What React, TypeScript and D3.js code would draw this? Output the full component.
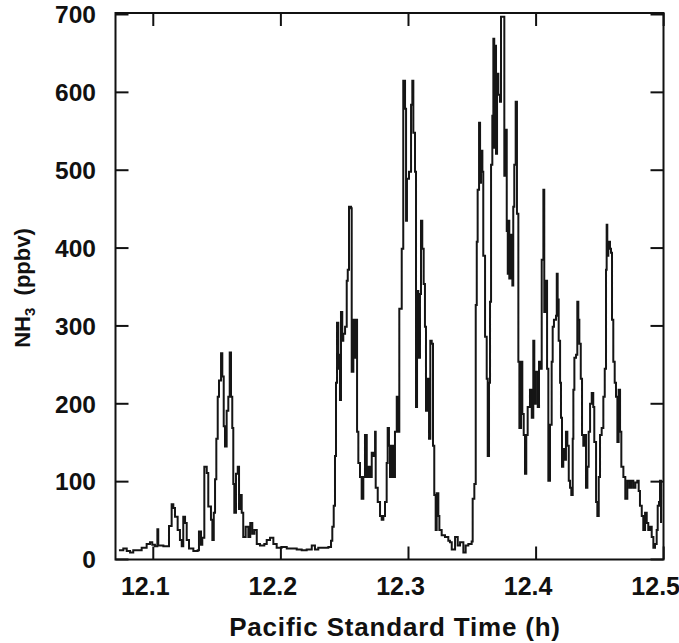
import React from "react";
import * as d3 from "d3";

const times: number[] = [
  12.0731, 12.0765, 12.0792, 12.0818, 12.0843, 12.0883, 12.0909, 12.0948, 12.0974, 12.0992,
  12.1013, 12.1032, 12.1039, 12.1079, 12.1113, 12.1123, 12.1144, 12.1157, 12.117, 12.1191,
  12.1209, 12.1223, 12.1235, 12.1249, 12.1262, 12.128, 12.1314, 12.1348, 12.1358, 12.1374,
  12.1384, 12.14, 12.1419, 12.1431, 12.1452, 12.1463, 12.1474, 12.1484, 12.1494, 12.1505,
  12.1515, 12.1531, 12.1541, 12.1552, 12.1562, 12.1575, 12.1588, 12.1599, 12.1609, 12.1619,
  12.1627, 12.1635, 12.1648, 12.1662, 12.1672, 12.1682, 12.1693, 12.1705, 12.1724, 12.1745,
  12.176, 12.1776, 12.1792, 12.1811, 12.1836, 12.187, 12.1889, 12.1915, 12.1941, 12.1967,
  12.2006, 12.2046, 12.2085, 12.2124, 12.2163, 12.2202, 12.2242, 12.2267, 12.2293, 12.2332,
  12.2372, 12.2393, 12.2403, 12.2414, 12.2424, 12.2432, 12.244, 12.245,
  12.2455, 12.2463, 12.2471, 12.2481, 12.2489, 12.2503, 12.2516, 12.2524, 12.2534, 12.255,
  12.2555, 12.2568, 12.2575, 12.2586, 12.2597, 12.2607, 12.262, 12.2633, 12.2646, 12.2659,
  12.2673, 12.2685, 12.2698, 12.2712, 12.2724, 12.2738, 12.2743, 12.2759, 12.2777, 12.279,
  12.2803, 12.2816, 12.2829, 12.2837, 12.2847, 12.2855, 12.2869, 12.2881, 12.2894, 12.2908,
  12.292, 12.2928, 12.2947, 12.2959, 12.2973, 12.2981, 12.2988, 12.3004, 12.302, 12.303,
  12.3038, 12.3051, 12.3059, 12.3067, 12.3077, 12.309, 12.3098, 12.3108, 12.3119, 12.3129,
  12.3137, 12.3151, 12.3161, 12.3171, 12.3182, 12.3192, 12.3202, 12.3213, 12.3221, 12.3234,
  12.3242, 12.326, 12.3286, 12.3312,
  12.3325, 12.3339, 12.3365, 12.3386, 12.3404, 12.343, 12.3448, 12.3469, 12.3495, 12.3503,
  12.3516, 12.3527, 12.3535, 12.3542, 12.3553, 12.3561, 12.3568, 12.3579, 12.3586, 12.36,
  12.3613, 12.3621, 12.3631, 12.3639, 12.3647, 12.3657, 12.3665, 12.3672, 12.3678, 12.3686,
  12.3694, 12.3704, 12.3717, 12.3725, 12.3743, 12.3751, 12.3762, 12.377, 12.3778, 12.3782,
  12.379, 12.3803, 12.3814, 12.3821, 12.3829, 12.384, 12.385, 12.3861, 12.3869, 12.3882,
  12.3892, 12.3903, 12.3913, 12.3923, 12.3934, 12.3952, 12.3966, 12.3978, 12.3986, 12.3997,
  12.4013, 12.4023, 12.4033, 12.4044, 12.4057, 12.4064, 12.4075, 12.4086, 12.4096, 12.4109,
  12.4122, 12.413, 12.414, 12.4156, 12.4162, 12.4169, 12.4177, 12.4188, 12.4195, 12.4203,
  12.4213, 12.4224, 12.4234, 12.4245, 12.4256, 12.4266, 12.4276, 12.4287, 12.4292, 12.43,
  12.4313, 12.4323, 12.4331, 12.4339, 12.435, 12.436, 12.437, 12.4381, 12.4391, 12.4402,
  12.4412, 12.4423, 12.4436, 12.4448, 12.4456, 12.447, 12.448, 12.4491, 12.4501, 12.4514,
  12.4527, 12.4538, 12.4548, 12.4553, 12.4558, 12.4566, 12.4579, 12.4587, 12.4595, 12.4605,
  12.4616, 12.4626, 12.4637, 12.4647, 12.4658, 12.4668, 12.4684, 12.4699, 12.4715, 12.4731,
  12.4746, 12.4762, 12.4778, 12.4793, 12.4804, 12.4814, 12.4828, 12.484, 12.4854, 12.4867,
  12.4879, 12.4893, 12.4906, 12.4919, 12.4932, 12.4945, 12.4953, 12.4963, 12.4971, 12.4979,
];

const nh3: number[] = [
  12, 14, 11, 9, 12, 12, 15, 20, 22, 19,
  17, 39, 18, 17, 17, 43, 71, 66, 55, 38,
  25, 17, 55, 47, 25, 14, 11, 12, 36, 19,
  28, 119, 111, 68, 51, 25, 60, 103, 155, 209,
  230, 265, 235, 171, 145, 191, 209, 266, 209, 169,
  97, 60, 110, 119, 65, 83, 60, 29, 42, 29,
  47, 33, 38, 20, 18, 20, 25, 28, 20, 15,
  16, 14, 14, 13, 12, 13, 18, 13, 15, 15,
  16, 24, 42, 69, 133, 227, 304, 245,
  263, 205, 318, 281, 290, 299, 358, 372, 453, 451,
  241, 308, 259, 308, 164, 124, 106, 78, 106, 160,
  106, 119, 106, 137, 133, 164, 92, 74, 56, 51,
  56, 74, 124, 169, 146, 106, 146, 106, 164, 209,
  164, 322, 399, 615, 579, 435, 489, 498, 584, 615,
  548, 498, 196, 345, 259, 341, 435, 399, 354, 299,
  191, 232, 155, 281, 277, 146, 83, 38, 85, 56,
  38, 31, 29, 24,
  22, 13, 29, 18, 22, 9, 18, 20, 23, 78,
  97, 327, 408, 475, 561, 484, 525, 498, 390, 286,
  232, 133, 227, 331, 507, 570, 669, 529, 660, 521,
  624, 597, 588, 697, 697, 493, 552, 422, 367, 435,
  361, 417, 352, 453, 507, 588, 444, 254, 169, 254,
  187, 160, 110, 160, 196, 218, 182, 281, 200, 241,
  196, 254, 245, 385, 475, 318, 358, 245, 101, 173,
  254, 299, 308, 313, 367, 334, 281, 227, 182, 119,
  142, 128, 164, 146, 101, 92, 83, 155, 218, 259,
  263, 331, 308, 277, 232, 160, 146, 160, 92, 119,
  164, 200, 214, 196, 151, 74, 56, 106, 160, 169,
  209, 245, 372, 430, 390, 408, 399, 394, 308, 254,
  227, 209, 151, 218, 164, 119, 106, 78, 101, 92,
  101, 92, 99, 101, 88, 69, 56, 38, 60, 47,
  38, 42, 29, 15, 20, 38, 69, 74, 101, 47,
];

const xTicks: number[] = [12.1, 12.2, 12.3, 12.4, 12.5];
const yTicks: number[] = [0, 100, 200, 300, 400, 500, 600, 700];

const W = 679;
const H = 643;
const FONT = "'Liberation Sans', Arial, Helvetica, sans-serif";

export default function App() {
  const x = d3.scaleLinear().domain([12.07, 12.5]).range([115, 663.7]);
  const y = d3.scaleLinear().domain([0, 700]).range([559.5, 14.5]);
  const left = 115.5;
  const right = 663.5;
  const top = 13;
  const bottom = 559.5;
  const tickLen = 13;

  const pts: [number, number][] = times.map((t, i) => [t, nh3[i]]);
  const line = d3
    .line<[number, number]>()
    .x((d) => x(d[0]))
    .y((d) => y(d[1]))
    .curve(d3.curveStepAfter);

  return (
    <svg
      width={W}
      height={H}
      style={{ position: "absolute", left: 0, top: 0, background: "#fff" }}
    >
      <path d={line(pts) || ""} fill="none" stroke="#151515" strokeWidth={2} strokeLinejoin="miter" />
      <rect x={left} y={top} width={right - left} height={bottom - top} fill="none" stroke="#111" strokeWidth={2} />
      {xTicks.map((t) => (
        <g key={"xt" + t}>
          <line x1={x(t)} x2={x(t)} y1={bottom} y2={bottom - tickLen} stroke="#111" strokeWidth={2} />
          <line x1={x(t)} x2={x(t)} y1={top} y2={top + tickLen} stroke="#111" strokeWidth={2} />
          <text
            x={x(t) - 8}
            y={595}
            textAnchor="middle"
            fontFamily={FONT}
            fontWeight="bold"
            fontSize={25}
            fill="#111"
          >
            {t.toFixed(1)}
          </text>
        </g>
      ))}
      {yTicks.map((v) => (
        <g key={"yt" + v}>
          <line x1={left} x2={left + tickLen} y1={y(v)} y2={y(v)} stroke="#111" strokeWidth={2} />
          <line x1={right} x2={right - tickLen} y1={y(v)} y2={y(v)} stroke="#111" strokeWidth={2} />
          <text
            x={96}
            y={y(v) + 8.8}
            textAnchor="end"
            fontFamily={FONT}
            fontWeight="bold"
            fontSize={24.5}
            fill="#111"
          >
            {v}
          </text>
        </g>
      ))}
      <text
        x={395}
        y={636}
        textAnchor="middle"
        fontFamily={FONT}
        fontWeight="bold"
        fontSize={26}
        letterSpacing={0.8}
        fill="#111"
      >
        Pacific Standard Time (h)
      </text>
      <text
        transform="translate(30,288) rotate(-90)"
        textAnchor="middle"
        fontFamily={FONT}
        fontWeight="bold"
        fontSize={22}
        fill="#111"
      >
        NH
        <tspan fontSize={15} dy={5}>3</tspan>
        <tspan dy={-5}>{"\u00a0 (ppbv)"}</tspan>
      </text>
    </svg>
  );
}
